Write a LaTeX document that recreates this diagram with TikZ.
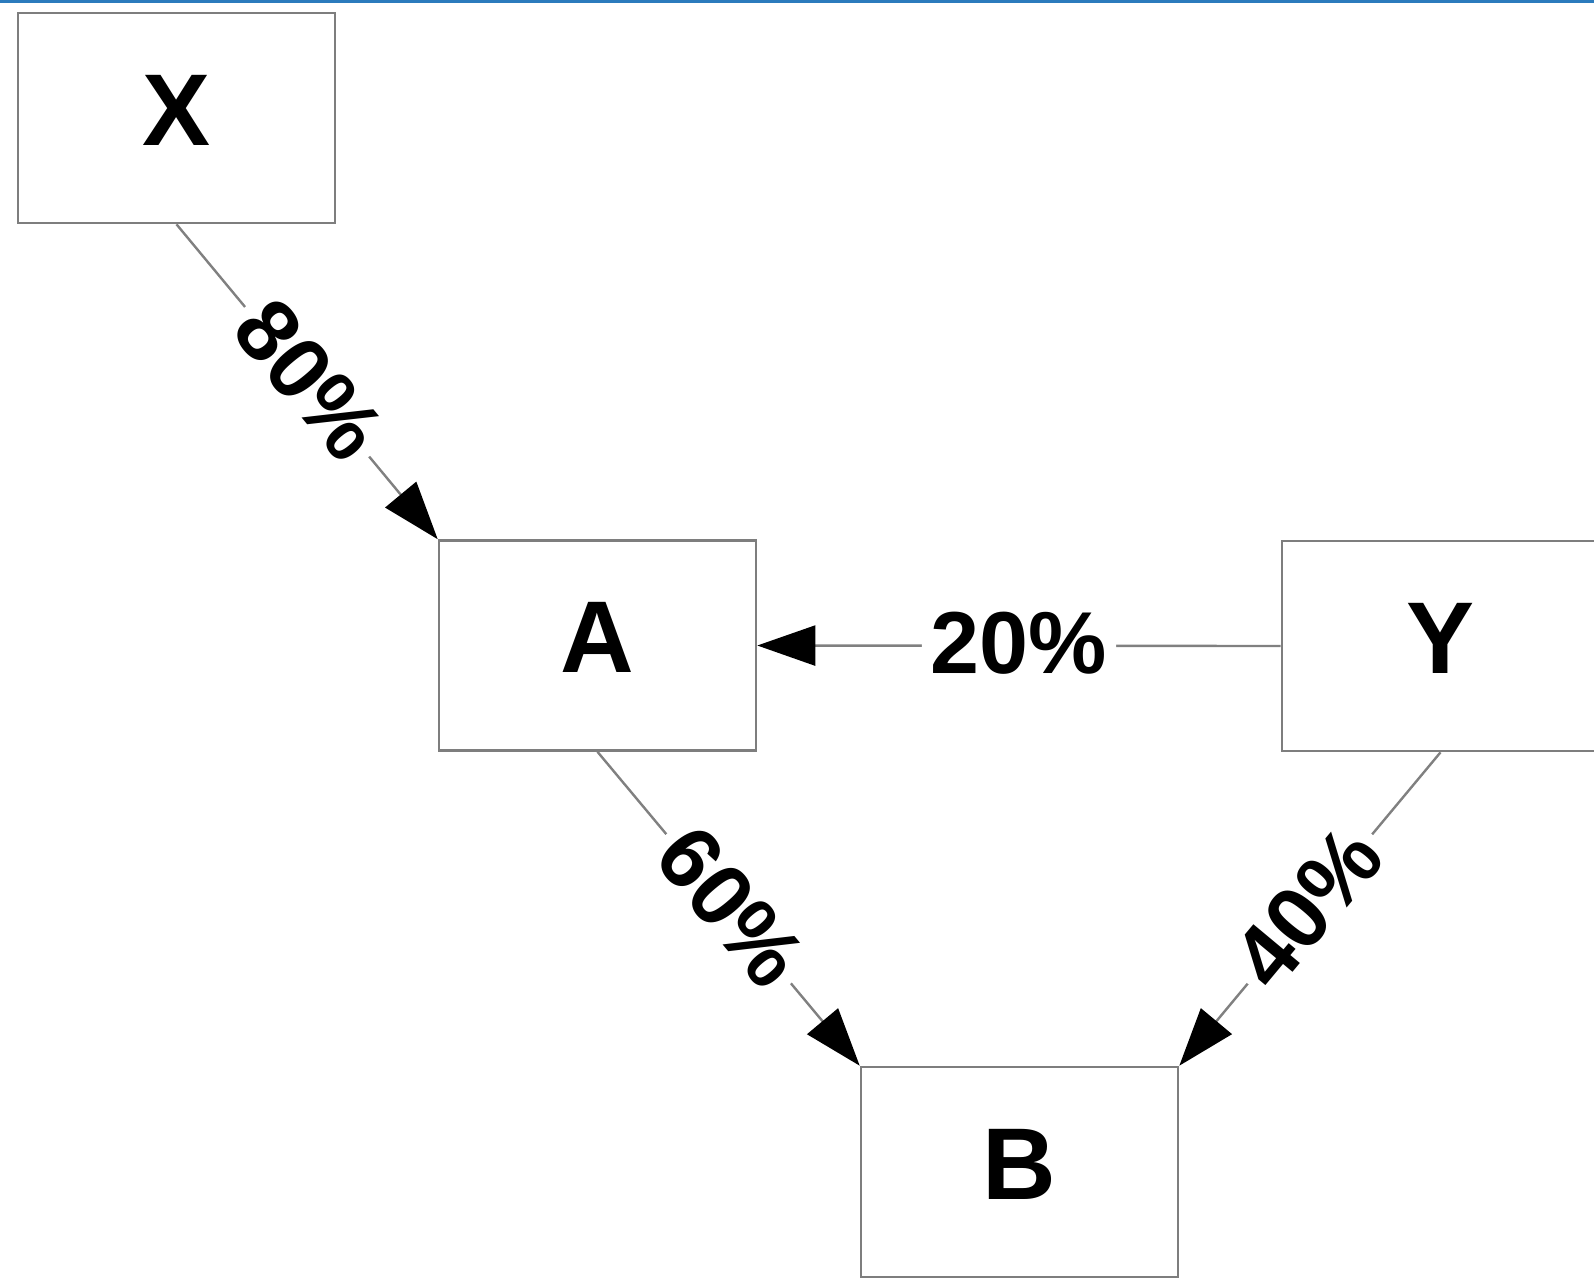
\documentclass[tikz,border=0pt]{standalone}
\usepackage{fontspec}
\setmainfont{Liberation Sans}
\usetikzlibrary{arrows.meta}
\definecolor{boxgray}{HTML}{7E7E7E}
\definecolor{linegray}{HTML}{808080}
\definecolor{topblue}{HTML}{2B7BBD}
\tikzset{
  blk/.style={draw=boxgray, line width=2.6pt, fill=white, minimum width=317pt,
    minimum height=210pt, inner sep=0pt, text depth=16pt,
    font=\fontsize{102}{110}\selectfont\bfseries},
  conn/.style={draw=linegray, line width=2.4pt,
    -{Triangle[length=58pt,width=40pt,fill=black,color=black]}},
  pct/.style={fill=white, inner sep=9pt, sloped, text height=63pt, text depth=8pt,
    font=\fontsize{88}{96}\selectfont\bfseries}
}
\begin{document}
\begin{tikzpicture}[x=1pt,y=-1pt]
\useasboundingbox (0,0) rectangle (1594,1277);
\clip (0,0) rectangle (1594,1277);
\fill[white] (0,0) rectangle (1594,1277);
\fill[topblue] (0,0) rectangle (1594,3);
\node[blk] (X) at (176.5,118) {X};
\node[blk] (A) at (597.5,645.5) {A};
\node[blk] (Y) at (1440.5,646) {Y};
\node[blk] (B) at (1019.5,1172) {B};
\draw[conn] (X.south) -- node[pct] {80\%} (A.north west);
\draw[conn] (Y.west) -- node[pct] {20\%} (A.east);
\draw[conn] (A.south) -- node[pct] {60\%} (B.north west);
\draw[conn] (Y.south) -- node[pct] {40\%} (B.north east);
\end{tikzpicture}
\end{document}
